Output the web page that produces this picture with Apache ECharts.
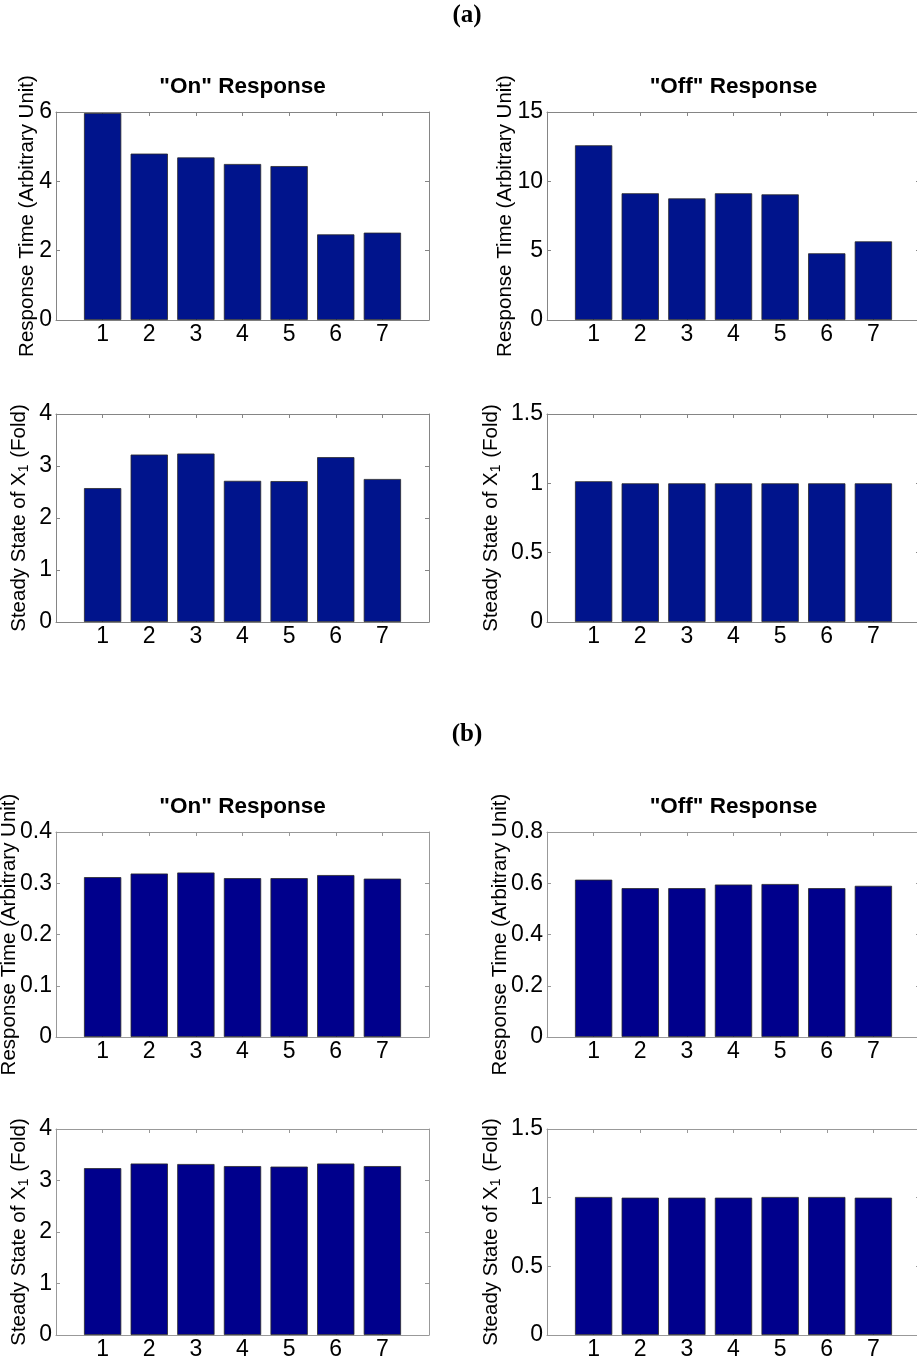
<!DOCTYPE html>
<html>
<head>
<meta charset="utf-8">
<script src="https://cdn.jsdelivr.net/npm/echarts@6/dist/echarts.min.js"></script>
<style>
  html, body { margin: 0; padding: 0; background: #fff; }
  #chart { width: 917px; height: 1362px; }
</style>
</head>
<body>
<div id="chart"></div>
<script>
// Conditions 1..7 on the x axis
const categories = [1, 2, 3, 4, 5, 6, 7];

// (a) response times and steady states
const onTimeA    = [5.97, 4.80, 4.69, 4.50, 4.44, 2.47, 2.52];
const offTimeA   = [12.6, 9.14, 8.77, 9.14, 9.06, 4.81, 5.67];
const onSteadyA  = [2.575, 3.22, 3.24, 2.715, 2.71, 3.17, 2.75];
const offSteadyA = [1.015, 1.0, 1.0, 1.0, 1.0, 1.0, 1.0];

// (b) response times and steady states
const onTimeB    = [0.312, 0.319, 0.321, 0.310, 0.310, 0.316, 0.309];
const offTimeB   = [0.614, 0.581, 0.581, 0.595, 0.597, 0.581, 0.590];
const onSteadyB  = [3.24, 3.33, 3.32, 3.28, 3.27, 3.33, 3.28];
const offSteadyB = [1.005, 1.0, 1.0, 1.0, 1.005, 1.005, 1.0];

// y tick values of each panel
const ticksOnTimeA    = [0, 2, 4, 6];
const ticksOffTimeA   = [0, 5, 10, 15];
const ticksOnSteadyA  = [0, 1, 2, 3, 4];
const ticksOffSteadyA = [0, 0.5, 1, 1.5];
const ticksOnTimeB    = [0, 0.1, 0.2, 0.3, 0.4];
const ticksOffTimeB   = [0, 0.2, 0.4, 0.6, 0.8];
const ticksOnSteadyB  = [0, 1, 2, 3, 4];
const ticksOffSteadyB = [0, 0.5, 1, 1.5];

const titleOn = '"On" Response';
const titleOff = '"Off" Response';
const nameTime = 'Response Time (Arbitrary Unit)';
const nameSteady = 'Steady State of X{sub|1} (Fold)';

const FONT = '"Liberation Sans", Arial, sans-serif';
const LEFT_X = 56, RIGHT_X = 547, PLOT_W = 373;

const panels = [
  { values: onTimeA,    ticks: ticksOnTimeA,    title: titleOn,  yName: nameTime,   left: LEFT_X,  top: 112,  height: 208, gap: 18, bar: '#00148C', axis: '#858585' },
  { values: offTimeA,   ticks: ticksOffTimeA,   title: titleOff, yName: nameTime,   left: RIGHT_X, top: 112,  height: 208, gap: 31, bar: '#00148C', axis: '#858585' },
  { values: onSteadyA,  ticks: ticksOnSteadyA,  title: null,     yName: nameSteady, left: LEFT_X,  top: 414,  height: 208, gap: 25, bar: '#00148C', axis: '#858585' },
  { values: offSteadyA, ticks: ticksOffSteadyA, title: null,     yName: nameSteady, left: RIGHT_X, top: 414,  height: 208, gap: 44, bar: '#00148C', axis: '#858585' },
  { values: onTimeB,    ticks: ticksOnTimeB,    title: titleOn,  yName: nameTime,   left: LEFT_X,  top: 832,  height: 205, gap: 36, bar: '#00008C', axis: '#999999' },
  { values: offTimeB,   ticks: ticksOffTimeB,   title: titleOff, yName: nameTime,   left: RIGHT_X, top: 832,  height: 205, gap: 36, bar: '#00008C', axis: '#999999' },
  { values: onSteadyB,  ticks: ticksOnSteadyB,  title: null,     yName: nameSteady, left: LEFT_X,  top: 1129, height: 206, gap: 25, bar: '#00008C', axis: '#999999' },
  { values: offSteadyB, ticks: ticksOffSteadyB, title: null,     yName: nameSteady, left: RIGHT_X, top: 1129, height: 206, gap: 44, bar: '#00008C', axis: '#999999' }
];

const grid = [], xAxis = [], yAxis = [], series = [];

panels.forEach((p, i) => {
  grid.push({ left: p.left, top: p.top, width: PLOT_W, height: p.height, containLabel: false, outerBoundsMode: 'none' });

  const yMin = p.ticks[0];
  const yMax = p.ticks[p.ticks.length - 1];
  const yInt = p.ticks[1] - p.ticks[0];
  const lineStyle = { color: p.axis, width: 1 };
  const tick = { show: true, inside: true, length: 4, lineStyle: { color: p.axis } };

  // bottom axis with the condition numbers
  xAxis.push({
    type: 'value', gridIndex: i, position: 'bottom',
    min: 0, max: categories.length + 1, interval: 1,
    axisLine: { show: true, onZero: false, lineStyle },
    axisTick: tick,
    splitLine: { show: false },
    axisLabel: {
      show: true, margin: 3, color: '#000', fontSize: 23, fontFamily: FONT,
      formatter: v => (categories.indexOf(v) >= 0 ? String(v) : '')
    }
  });
  // top edge of the box, carrying the panel title
  xAxis.push({
    type: 'value', gridIndex: i, position: 'top',
    min: 0, max: categories.length + 1, interval: 1,
    axisLine: { show: true, onZero: false, lineStyle },
    axisTick: tick,
    splitLine: { show: false },
    axisLabel: { show: false },
    name: p.title || '', nameLocation: 'middle', nameGap: 14, nameMoveOverlap: false,
    nameTextStyle: { color: '#000', fontSize: 22.5, fontWeight: 'bold', fontFamily: FONT }
  });
  // left value axis
  yAxis.push({
    type: 'value', gridIndex: i, position: 'left',
    min: yMin, max: yMax, interval: yInt,
    axisLine: { show: true, onZero: false, lineStyle },
    axisTick: tick,
    splitLine: { show: false },
    axisLabel: { margin: 4, color: '#000', fontSize: 23, fontFamily: FONT },
    name: p.yName, nameLocation: 'middle', nameGap: p.gap, nameMoveOverlap: false,
    nameTextStyle: {
      color: '#000', fontSize: 20.5, fontFamily: FONT,
      rich: { sub: { fontSize: 14, fontFamily: FONT, color: '#000', padding: [9, 1, 0, 0] } }
    }
  });
  // right edge of the box
  yAxis.push({
    type: 'value', gridIndex: i, position: 'right',
    min: yMin, max: yMax, interval: yInt,
    axisLine: { show: true, onZero: false, lineStyle },
    axisTick: tick,
    splitLine: { show: false },
    axisLabel: { show: false }
  });

  series.push({
    type: 'bar',
    xAxisIndex: i * 2, yAxisIndex: i * 2,
    barWidth: '80%',
    data: categories.map((c, k) => [c, p.values[k]]),
    itemStyle: { color: p.bar, borderColor: '#2a2a2a', borderWidth: 0.8 },
    silent: true,
    animation: false
  });
});

const chart = echarts.init(document.getElementById('chart'), null, { renderer: 'canvas' });
chart.setOption({
  backgroundColor: '#ffffff',
  animation: false,
  grid, xAxis, yAxis, series,
  graphic: [
    { type: 'text', x: 467, y: 16, style: { text: '(a)', font: 'bold 25px "Liberation Serif", "Times New Roman", serif', fill: '#000', textAlign: 'center', textVerticalAlign: 'middle' } },
    { type: 'text', x: 467, y: 735, style: { text: '(b)', font: 'bold 25px "Liberation Serif", "Times New Roman", serif', fill: '#000', textAlign: 'center', textVerticalAlign: 'middle' } }
  ]
});
</script>
</body>
</html>
